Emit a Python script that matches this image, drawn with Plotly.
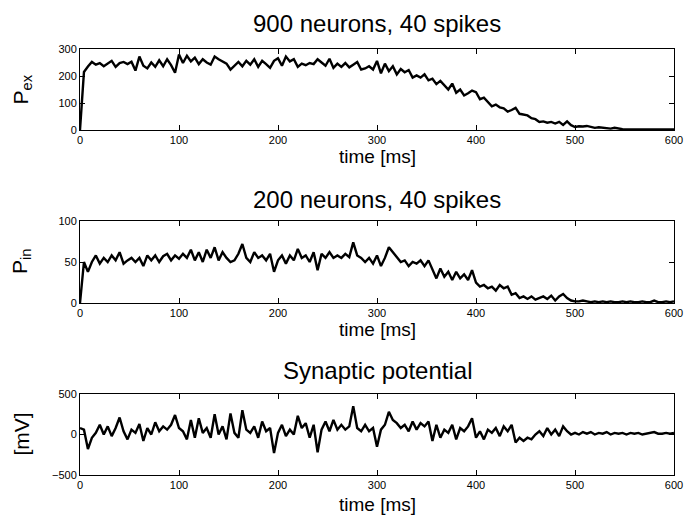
import plotly.graph_objects as go

TIME = list(range(0, 601, 4))

P_EX = [
    0, 215, 235, 252, 242, 248, 236, 246, 256, 234,
    248, 252, 244, 253, 220, 272, 238, 228, 250, 234,
    258, 236, 262, 240, 212, 280, 248, 275, 254, 268,
    244, 262, 250, 242, 272, 262, 254, 246, 224, 240,
    252, 236, 256, 242, 262, 234, 256, 244, 230, 256,
    266, 238, 272, 254, 262, 234, 246, 240, 248, 244,
    262, 250, 238, 264, 230, 246, 234, 248, 232, 242,
    252, 224, 228, 236, 224, 256, 210, 246, 218, 236,
    206, 226, 214, 222, 194, 202, 194, 206, 184, 190,
    170, 182, 164, 150, 172, 138, 150, 128, 136, 146,
    140, 114, 120, 104, 88, 94, 84, 80, 68, 74,
    82, 60, 56, 54, 44, 40, 30, 32, 27, 30,
    24, 30, 19, 32, 18, 11, 14, 13, 15, 12,
    8, 10, 8, 6, 5, 8, 5, 3, 2, 2,
    1, 2, 1, 2, 1, 2, 1, 2, 3, 1,
    2,
]

P_IN = [
    0, 50, 38, 50, 58, 48, 55, 50, 58, 52,
    62, 48, 52, 55, 50, 55, 45, 58, 52, 58,
    50, 57, 60, 52, 58, 54, 60, 55, 65, 52,
    62, 50, 65, 55, 68, 52, 62, 55, 50, 52,
    60, 72, 55, 50, 62, 55, 58, 52, 60, 38,
    52, 58, 48, 58, 52, 66, 55, 58, 50, 62,
    40, 60, 55, 62, 55, 58, 55, 60, 56, 74,
    58, 55, 50, 55, 48, 58, 45, 55, 68, 62,
    56, 50, 52, 45, 50, 48, 52, 45, 52, 40,
    30, 42, 32, 38, 28, 38, 30, 35, 28, 40,
    25, 20, 22, 18, 20, 15, 22, 18, 20, 10,
    12, 6, 8, 5, 8, 4, 6, 8, 5, 9,
    3, 8, 11, 6, 3, 2, 2, 3, 2, 1,
    2, 1, 2, 1, 2, 1, 1, 2, 1, 2,
    1, 1, 2, 1, 1, 3, 1, 1, 2, 1,
    2,
]

V_SYN = [
    80, 60, -180, -40, 20, 120, 0, 100, -20, 80,
    210, 40, -60, 60, 20, 130, -80, 80, 0, 150,
    40, 100, 60, 120, 240, 80, 40, -60, 180, -40,
    200, 20, 80, -40, 250, 0, 100, -60, 260, 20,
    -40, 300, 60, 20, 100, -40, 160, 40, 80, -230,
    20, 120, -20, 60, 0, 230, 80, 140, -40, 120,
    -220, 60, 160, 40, 180, 60, 120, 60, 100, 350,
    80, 40, 120, 40, 80, -150, 60, 120, 280, 180,
    140, 80, 120, 40, 160, 60, 140, 100, 160, -80,
    120, -40, 60, 20, 120, -60, 80, 40, 100, 200,
    -40, 40, -60, 60, 20, 80, -20, 100, 40, 120,
    -100, -40, -80, -40, -60, 0, 40, -20, 80, 0,
    60, -20, 100, 40, 0, 20, 0, 30, 10, 30,
    0, 20, 10, 30, 0, 20, 10, 20, 0, 20,
    10, 20, 0, 10, 20, 30, 10, 10, 20, 10,
    20,
]

TITLES = ["900 neurons, 40 spikes", "200 neurons, 40 spikes", "Synaptic potential"]
YLABELS = ["P<sub>ex</sub>", "P<sub>in</sub>", "[mV]"]
XLABEL = "time [ms]"
X_TICKS = [0, 100, 200, 300, 400, 500, 600]
Y_TICKS = [[0, 100, 200, 300], [0, 50, 100], [-500, 0, 500]]
Y_RANGES = [[0, 300], [0, 100], [-500, 500]]

W, H = 687, 523
FONT = "Liberation Sans, Arial, Helvetica, sans-serif"

# pixel boxes (top, bottom) of each panel
boxes = [(49, 130), (221, 303), (394, 475)]
title_gap = [26, 21, 24]
xlabel_gap = [26, 26, 29]
x0, x1 = 80, 674

fig = go.Figure()
series = [P_EX, P_IN, V_SYN]
annotations = []
for i, (vals, (top, bot)) in enumerate(zip(series, boxes)):
    n = i + 1
    xa = "x" if n == 1 else f"x{n}"
    ya = "y" if n == 1 else f"y{n}"
    fig.add_trace(go.Scatter(x=TIME, y=vals, mode="lines",
                             line=dict(color="black", width=2.4),
                             xaxis=xa, yaxis=ya, showlegend=False))
    axis_common = dict(showline=True, linecolor="black", linewidth=1,
                       mirror="allticks", ticks="inside", ticklen=5,
                       tickcolor="black", showgrid=False, zeroline=False,
                       automargin=False,
                       tickfont=dict(family=FONT, size=11, color="black"))
    fig.layout[f"xaxis{'' if n == 1 else n}"] = dict(
        domain=[x0 / W, x1 / W], range=[0, 600], tickvals=X_TICKS,
        anchor=ya, **axis_common)
    fig.layout[f"yaxis{'' if n == 1 else n}"] = dict(
        domain=[1 - bot / H, 1 - top / H], range=Y_RANGES[i],
        tickvals=Y_TICKS[i], anchor=xa, **axis_common)
    annotations.append(dict(text=TITLES[i], x=(x0 + x1) / 2 / W,
                            y=1 - (top - title_gap[i]) / H,
                            xref="paper", yref="paper", xanchor="center", yanchor="middle",
                            showarrow=False, font=dict(family=FONT, size=24, color="black")))
    annotations.append(dict(text=XLABEL, x=(x0 + x1) / 2 / W,
                            y=1 - (bot + xlabel_gap[i]) / H,
                            xref="paper", yref="paper", xanchor="center", yanchor="middle",
                            showarrow=False, font=dict(family=FONT, size=19, color="black")))
    annotations.append(dict(text=YLABELS[i], x=21 / W, y=1 - (top + bot) / 2 / H,
                            xref="paper", yref="paper", xanchor="center", yanchor="middle",
                            textangle=-90, showarrow=False,
                            font=dict(family=FONT, size=21, color="black")))

fig.update_layout(width=W, height=H, margin=dict(l=0, r=0, t=0, b=0),
                  paper_bgcolor="white", plot_bgcolor="white",
                  annotations=annotations)

fig.write_html("out.html")
